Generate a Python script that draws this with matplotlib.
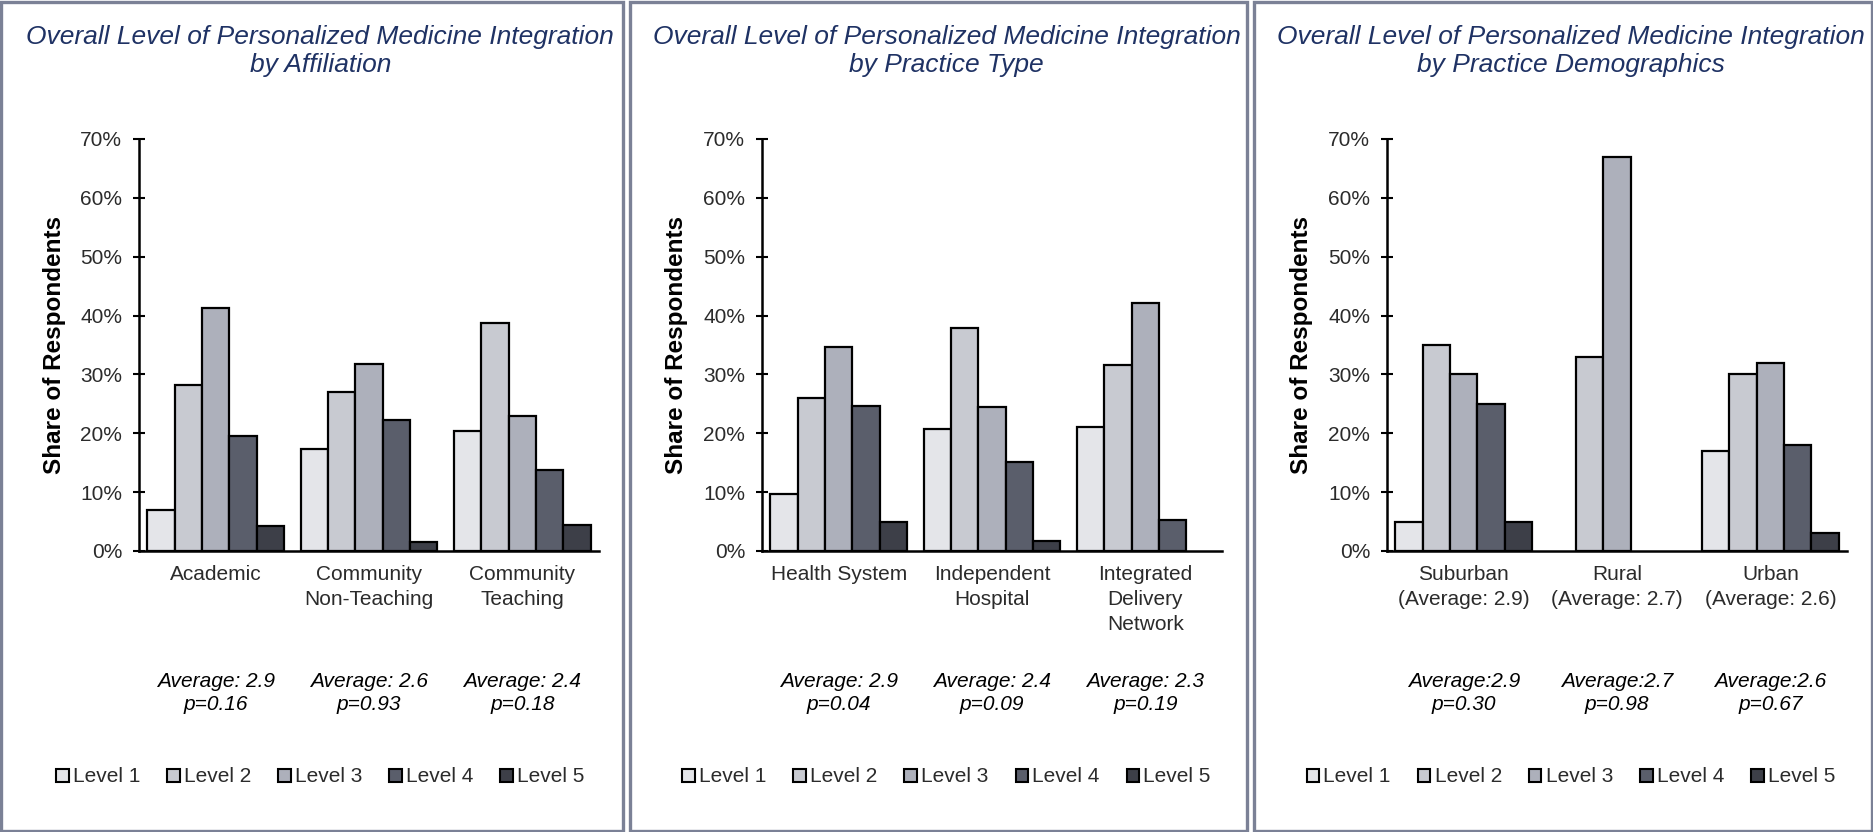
import numpy as np
import matplotlib.pyplot as plt
from matplotlib.patches import Rectangle, Patch

plt.rcParams['font.family'] = ['Liberation Sans', 'DejaVu Sans']

levels = ["Level 1", "Level 2", "Level 3", "Level 4", "Level 5"]
level_colors = ["#e4e5e9", "#c8cad1", "#adb0bb", "#5a5e6b", "#3d3f48"]

# panel 1 - by affiliation
affil_title = "Overall Level of Personalized Medicine Integration\nby Affiliation"
affil_cats = ["Academic", "Community\nNon-Teaching", "Community\nTeaching"]
affil_vals = [[7.0, 28.2, 41.3, 19.5, 4.3],
              [17.4, 27.0, 31.8, 22.2, 1.5],
              [20.4, 38.7, 22.9, 13.7, 4.5]]
affil_stats = ["Average: 2.9\np=0.16", "Average: 2.6\np=0.93", "Average: 2.4\np=0.18"]

# panel 2 - by practice type
ptype_title = "Overall Level of Personalized Medicine Integration\nby Practice Type"
ptype_cats = ["Health System", "Independent\nHospital", "Integrated\nDelivery\nNetwork"]
ptype_vals = [[9.7, 26.0, 34.6, 24.7, 5.0],
              [20.8, 37.9, 24.5, 15.1, 1.7],
              [21.0, 31.6, 42.2, 5.2, 0.0]]
ptype_stats = ["Average: 2.9\np=0.04", "Average: 2.4\np=0.09", "Average: 2.3\np=0.19"]

# panel 3 - by practice demographics
demo_title = "Overall Level of Personalized Medicine Integration\nby Practice Demographics"
demo_cats = ["Suburban\n(Average: 2.9)", "Rural\n(Average: 2.7)", "Urban\n(Average: 2.6)"]
demo_vals = [[5.0, 35.0, 30.0, 25.0, 5.0],
             [0.0, 33.0, 67.0, 0.0, 0.0],
             [17.0, 30.0, 32.0, 18.0, 3.0]]
demo_stats = ["Average:2.9\np=0.30", "Average:2.7\np=0.98", "Average:2.6\np=0.67"]

yticks = [0, 10, 20, 30, 40, 50, 60, 70]

panels = [
    (affil_title, affil_cats, affil_vals, affil_stats),
    (ptype_title, ptype_cats, ptype_vals, ptype_stats),
    (demo_title, demo_cats, demo_vals, demo_stats),
]

W, H = 1874, 832
fig = plt.figure(figsize=(W / 100, H / 100), dpi=100)

# layout in pixels: panel box x-range, axis left edge
boxes = [(1.5, 623), (630, 1247), (1254, 1872)]
ax_left = [139, 762, 1387]
ax_w, ax_top, ax_bot = 460, 139, 551

border_col = "#7b8196"
title_col = "#1f3264"
text_col = "#2b2b2b"

group_w = 0.89
bar_w = group_w / len(levels)

for (title, cats, vals, stats), (bx0, bx1), axl in zip(panels, boxes, ax_left):
    fig.patches.append(Rectangle((bx0 / W, 1.5 / H), (bx1 - bx0) / W, (H - 3) / H,
                                 transform=fig.transFigure, fill=False,
                                 edgecolor=border_col, linewidth=2.4, zorder=0))
    cx = (bx0 + bx1) / 2 + 8

    ax = fig.add_axes([axl / W, (H - ax_bot) / H, ax_w / W, (ax_bot - ax_top) / H])
    vals = np.array(vals)
    x = np.arange(len(cats))
    for j in range(len(levels)):
        offs = x - group_w / 2 + bar_w * (j + 0.5)
        for xi, v in zip(offs, vals[:, j]):
            if v > 0:
                ax.bar(xi, v, width=bar_w, color=level_colors[j],
                       edgecolor="black", linewidth=1.6, zorder=2)

    ax.set_xlim(-0.5, len(cats) - 0.5)
    ax.set_ylim(0, 70)
    ax.set_yticks(yticks)
    ax.set_yticklabels([f"{t}%" for t in yticks])
    ax.set_xticks(x)
    ax.set_xticklabels(cats, linespacing=1.4)
    for s in ["top", "right"]:
        ax.spines[s].set_visible(False)
    for s in ["left", "bottom"]:
        ax.spines[s].set_linewidth(1.8)
        ax.spines[s].set_zorder(3)
    ax.tick_params(axis="y", direction="inout", length=8, width=1.5,
                   labelsize=15, labelcolor=text_col, pad=8)
    ax.tick_params(axis="x", length=0, labelsize=15, labelcolor=text_col, pad=10)

    ax.text(-85 / ax_w, 0.5, "Share of Respondents", transform=ax.transAxes,
            rotation=90, ha="center", va="center", fontsize=17.5,
            fontweight="bold", color="black")

    for xi, s in zip(x, stats):
        ax.text(xi, -(693 - ax_bot) / (ax_bot - ax_top), s,
                transform=ax.get_xaxis_transform(), ha="center", va="center",
                fontsize=15, style="italic", color="black", linespacing=1.22)

    fig.text(cx / W, 1 - 51 / H, title, ha="center", va="center",
             fontsize=19, style="italic", color=title_col, linespacing=1.25)

    handles = [Patch(facecolor=c, edgecolor="black", linewidth=1.5) for c in level_colors]
    fig.legend(handles, levels, loc="center", bbox_to_anchor=(cx / W, 1 - 777 / H),
               ncol=5, frameon=False, fontsize=15, handlelength=0.6,
               handleheight=0.6, handletextpad=0.2, columnspacing=1.3,
               labelcolor=text_col)

fig.savefig("out.png", dpi=100)
